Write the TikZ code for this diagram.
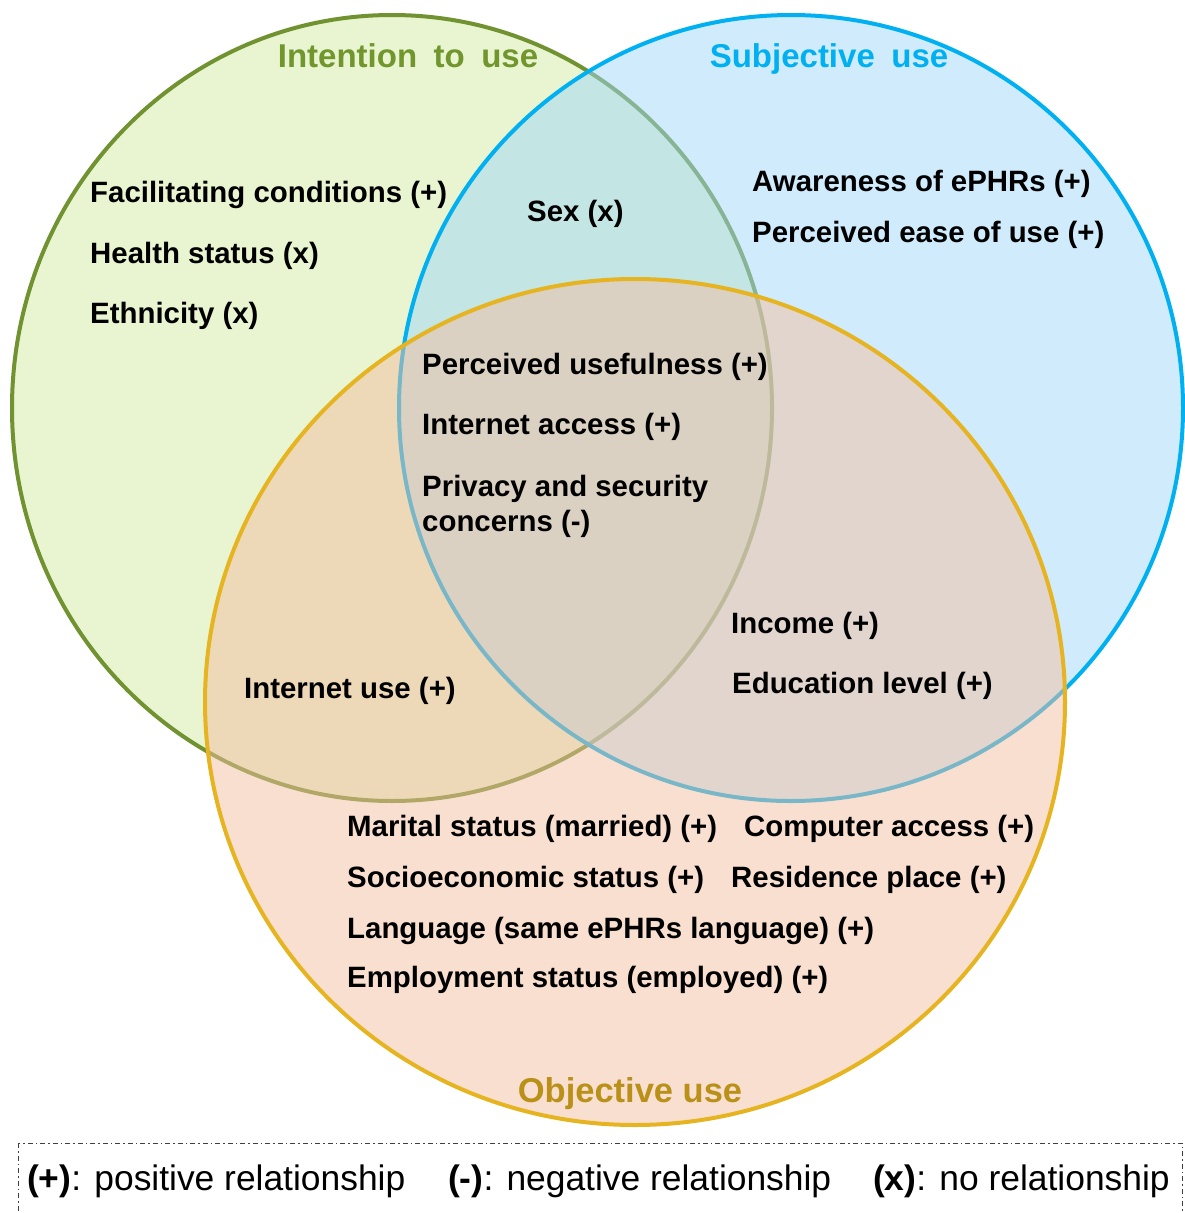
\documentclass[tikz,border=0pt]{standalone}
\usepackage{fontspec}
\setmainfont{Liberation Sans}
\definecolor{greenline}{RGB}{112,146,48}
\definecolor{greenfill}{RGB}{232,245,208}
\definecolor{greentxt}{RGB}{112,150,45}
\definecolor{blueline}{RGB}{0,176,240}
\definecolor{bluefill}{RGB}{159,215,249}
\definecolor{orangeline}{RGB}{230,180,32}
\definecolor{orangefill}{RGB}{243,191,161}
\definecolor{orangetxt}{RGB}{185,145,25}
\begin{document}
\begin{tikzpicture}[x=1pt,y=-1pt,
  lbl/.style={anchor=west, inner sep=0pt, align=left, text=black, yshift=-3pt,
    font=\fontsize{29.4}{35}\selectfont\bfseries},
  ttl/.style={anchor=center, inner sep=0pt, font=\fontsize{33}{38}\selectfont\bfseries},
  leg/.style={anchor=west, inner sep=0pt, text=black, yshift=-3pt, font=\fontsize{35.4}{40}\selectfont},
  ring/.style={line width=4pt, fill opacity=0.5}]
\useasboundingbox (0,0) rectangle (1184,1213);
% circles
\filldraw[fill=greenfill, draw=greenline, line width=4pt] (392,408) ellipse [x radius=380pt, y radius=393pt];
\filldraw[ring, fill=bluefill, draw=blueline] (791,408) ellipse [x radius=392pt, y radius=393pt];
\filldraw[ring, fill=orangefill, draw=orangeline] (635,702) ellipse [x radius=430pt, y radius=423pt];
% titles
\node[ttl, text=greentxt] (tint) at (408,56) {Intention\hspace{0.5em}to\hspace{0.5em}use};
\node[ttl, text=blueline] (tsub) at (829,59) {Subjective\hspace{0.5em}use};
\node[ttl, text=orangetxt, font=\fontsize{34.5}{38}\selectfont\bfseries] (tobj) at (630,1094) {Objective use};
% intention only
\node[lbl] (fc) at (90,192) {Facilitating conditions (+)};
\node[lbl] (hs) at (90,253) {Health status (x)};
\node[lbl] (et) at (90,313) {Ethnicity (x)};
% intention & subjective
\node[lbl] (sx) at (527,211) {Sex (x)};
% subjective only
\node[lbl] (aw) at (752,181) {Awareness of ePHRs (+)};
\node[lbl] (pe) at (752,232) {Perceived ease of use (+)};
% all three
\node[lbl] (pu) at (422,364) {Perceived usefulness (+)};
\node[lbl] (ia) at (422,424) {Internet access (+)};
\node[lbl] (ps) at (422,503.5) {Privacy and security\\concerns (-)};
% subjective & objective
\node[lbl] (in) at (731,623) {Income (+)};
\node[lbl] (ed) at (732,683) {Education level (+)};
% intention & objective
\node[lbl] (iu) at (244,688) {Internet use (+)};
% objective only
\node[lbl] (ms) at (347,826) {Marital status (married) (+)};
\node[lbl] (ca) at (744,826) {Computer access (+)};
\node[lbl] (se) at (347,877) {Socioeconomic status (+)};
\node[lbl] (rp) at (731,877) {Residence place (+)};
\node[lbl] (la) at (347,928) {Language (same ePHRs language) (+)};
\node[lbl] (em) at (347,977) {Employment status (employed) (+)};
% legend
\draw[black!75, line width=1pt, dash pattern=on 5pt off 3pt on 1.5pt off 3pt] (18,1143) rectangle (1182,1230);
\node[leg] (lp) at (27,1178) {\textbf{(+)}: positive relationship};
\node[leg] (ln) at (448,1178) {\textbf{(-)}: negative relationship};
\node[leg] (lx) at (873,1178) {\textbf{(x)}: no relationship};
\end{tikzpicture}
\end{document}
